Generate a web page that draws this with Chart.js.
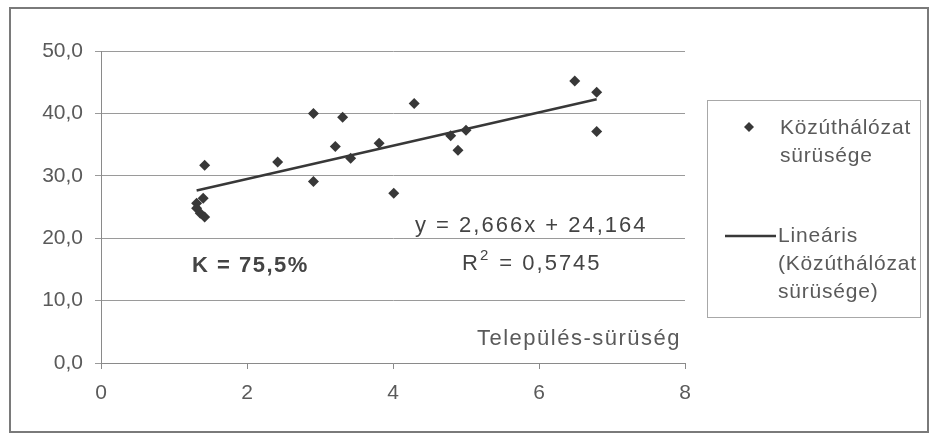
<!DOCTYPE html>
<html>
<head>
<meta charset="utf-8">
<script src="https://cdn.jsdelivr.net/npm/chart.js@4"></script>
<style>
  body { margin: 0; background: #fff; }
  #wrap { width: 932px; height: 439px; }
</style>
</head>
<body>
<div id="wrap"><canvas id="chart" width="932" height="439"></canvas></div>
<script>
/*---------------------------------
   DATOS
 ----------------------------------*/
var telepulesSuruseg = [1.31, 1.31, 1.36, 1.42, 1.40, 1.42, 2.42, 2.91, 2.91, 3.21, 3.31, 3.42, 3.81, 4.01, 4.29, 4.79, 4.89, 5.00, 6.49, 6.79, 6.79];
var kozutSuruseg = [25.6, 24.8, 24.0, 23.4, 26.4, 31.7, 32.2, 40.0, 29.1, 34.7, 39.4, 32.8, 35.2, 27.2, 41.6, 36.4, 34.1, 37.3, 45.2, 43.4, 37.1];
var xTicks = [0, 2, 4, 6, 8];
var yTicks = [0, 10, 20, 30, 40, 50];
var trendSlope = 2.666;
var trendIntercept = 24.164;
var rSquared = '0,5745';
var kLabel = 'K = 75,5%';
var xTitle = 'Település-sürüség';
var serieLabel = ['Közúthálózat', 'sürüsége'];
var trendLabel = ['Lineáris', '(Közúthálózat', 'sürüsége)'];

var FONT = '"Liberation Sans", Arial, sans-serif';
var GRAY = '#5a5a5a';
var DARK = '#383838';

var puntos = telepulesSuruseg.map(function(x, i) {
    return { x: x, y: kozutSuruseg[i] };
});

var xMin = Math.min.apply(null, telepulesSuruseg);
var xMax = Math.max.apply(null, telepulesSuruseg);
var trend = [
    { x: xMin, y: trendSlope * xMin + trendIntercept },
    { x: xMax, y: trendSlope * xMax + trendIntercept }
];

/*---------------------------------
   TEXTOS, MARCO Y LEYENDA
 ----------------------------------*/
var extras = {
    id: 'extras',
    beforeDraw: function(chart) {
        var ctx = chart.ctx;
        ctx.save();
        ctx.fillStyle = '#fff';
        ctx.fillRect(0, 0, chart.width, chart.height);
        ctx.restore();
    },
    afterDraw: function(chart) {
        var ctx = chart.ctx;
        ctx.save();

        // marco exterior
        ctx.strokeStyle = '#7a7a7a';
        ctx.lineWidth = 2;
        ctx.strokeRect(10, 8, 918, 424);

        // K
        ctx.fillStyle = '#444';
        ctx.font = 'bold 22px ' + FONT;
        ctx.letterSpacing = '1.5px';
        ctx.textBaseline = 'middle';
        ctx.textAlign = 'left';
        ctx.fillText(kLabel, 192, 266);

        // ecuacion
        ctx.font = '22px ' + FONT;
        ctx.letterSpacing = '2px';
        ctx.fillStyle = '#444';
        ctx.fillText('y = ' + String(trendSlope).replace('.', ',') + 'x + ' + String(trendIntercept).replace('.', ','), 415, 226);

        // R2
        var rx = 462, ry = 264;
        ctx.fillText('R', rx, ry);
        var w = ctx.measureText('R').width;
        ctx.font = '15px ' + FONT;
        ctx.fillText('2', rx + w, ry - 8);
        var w2 = ctx.measureText('2').width;
        ctx.font = '22px ' + FONT;
        ctx.fillText(' = ' + rSquared, rx + w + w2 + 1, ry);

        // titulo eje x
        ctx.fillStyle = GRAY;
        ctx.letterSpacing = '1.5px';
        ctx.textAlign = 'left';
        ctx.fillText(xTitle, 477, 339);

        // leyenda
        ctx.strokeStyle = '#a8a8a8';
        ctx.lineWidth = 1;
        ctx.strokeRect(707.5, 100.5, 213, 217);
        ctx.textAlign = 'left';
        ctx.fillStyle = GRAY;
        ctx.font = '21px ' + FONT;
        ctx.letterSpacing = '0.8px';
        serieLabel.forEach(function(t, i) { ctx.fillText(t, 780, 128 + i * 28); });
        trendLabel.forEach(function(t, i) { ctx.fillText(t, 778, 236 + i * 28); });
        ctx.letterSpacing = '0px';
        // marcador
        ctx.fillStyle = DARK;
        ctx.beginPath();
        ctx.moveTo(749, 122); ctx.lineTo(754, 127); ctx.lineTo(749, 132); ctx.lineTo(744, 127);
        ctx.closePath();
        ctx.fill();
        // linea
        ctx.strokeStyle = DARK;
        ctx.lineWidth = 2.5;
        ctx.beginPath();
        ctx.moveTo(725, 236); ctx.lineTo(776, 236);
        ctx.stroke();

        ctx.restore();
    }
};

/*---------------------------------
   GRAFICO
 ----------------------------------*/
var config = {
    type: 'scatter',
    data: {
        datasets: [{
            label: serieLabel.join(' '),
            data: puntos,
            pointStyle: 'rectRot',
            pointRadius: 5.5,
            backgroundColor: DARK,
            borderColor: DARK,
            borderWidth: 0,
            order: 1
        }, {
            label: trendLabel.join(' '),
            type: 'line',
            data: trend,
            borderColor: DARK,
            borderWidth: 2.5,
            pointRadius: 0,
            fill: false,
            order: 2
        }]
    },
    options: {
        responsive: false,
        animation: false,
        devicePixelRatio: 1,
        layout: { padding: { left: 0, top: 51, right: 247, bottom: 0 } },
        plugins: {
            legend: { display: false },
            tooltip: { enabled: false }
        },
        scales: {
            x: {
                type: 'linear',
                min: xTicks[0],
                max: xTicks[xTicks.length - 1],
                afterBuildTicks: function(s) { s.ticks = xTicks.map(function(v) { return { value: v }; }); },
                afterFit: function(s) { s.height = 76; },
                ticks: { color: GRAY, font: { family: FONT, size: 21 }, padding: 12 },
                grid: { drawOnChartArea: false, color: '#8a8a8a', tickLength: 6 },
                border: { color: '#8a8a8a' }
            },
            y: {
                min: yTicks[0],
                max: yTicks[yTicks.length - 1],
                afterBuildTicks: function(s) { s.ticks = yTicks.map(function(v) { return { value: v }; }); },
                afterFit: function(s) { s.width = 101; },
                ticks: {
                    color: GRAY,
                    font: { family: FONT, size: 21 },
                    padding: 12,
                    callback: function(v) { return v.toFixed(1).replace('.', ','); }
                },
                grid: { color: '#9a9a9a', tickLength: 6 },
                border: { color: '#8a8a8a' }
            }
        }
    },
    plugins: [extras]
};

window.onload = function() {
    var ctx = document.getElementById('chart').getContext('2d');
    window.myScatter = new Chart(ctx, config);
};
</script>
</body>
</html>
